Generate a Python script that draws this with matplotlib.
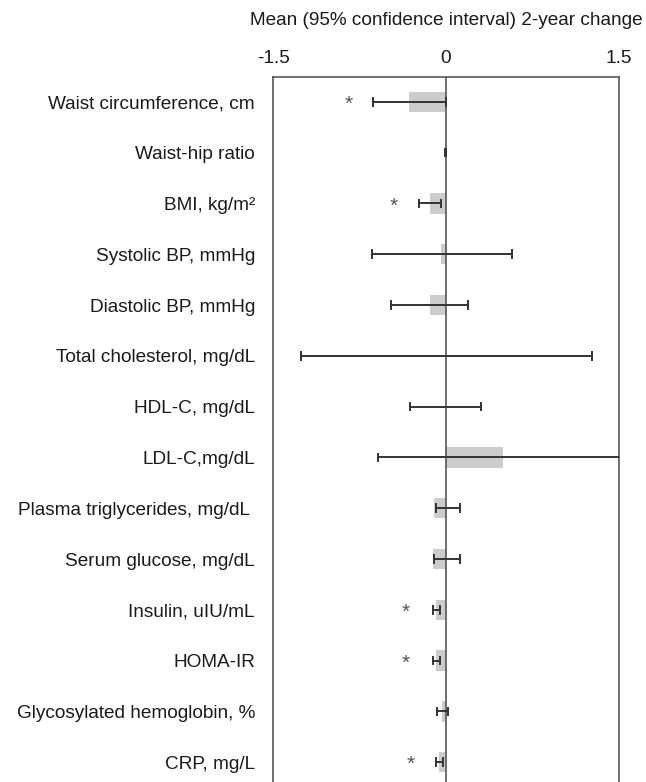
# Forest-style bar chart of 2-year changes with 95% CI
import matplotlib
matplotlib.use('Agg')
import matplotlib.pyplot as plt

# Data
labels = ['Waist circumference, cm', 'Waist-hip ratio', 'BMI, kg/m²',
          'Systolic BP, mmHg', 'Diastolic BP, mmHg', 'Total cholesterol, mg/dL',
          'HDL-C, mg/dL', 'LDL-C,mg/dL', 'Plasma triglycerides, mg/dL ',
          'Serum glucose, mg/dL', 'Insulin, uIU/mL', 'HOMA-IR',
          'Glycosylated hemoglobin, %', 'CRP, mg/L']
means = [-0.32, -0.005, -0.14, -0.04, -0.14, 0.0, 0.0, 0.49, -0.10, -0.11,
         -0.09, -0.09, -0.035, -0.06]
ci_low = [-0.63, -0.01, -0.23, -0.64, -0.48, -1.26, -0.31, -0.59, -0.09, -0.10,
          -0.11, -0.11, -0.08, -0.09]
ci_high = [0.0, 0.0, -0.04, 0.57, 0.19, 1.27, 0.30, 1.55, 0.12, 0.12,
           -0.05, -0.05, 0.02, -0.03]
# asterisk positions (significant changes)
star_rows = [0, 2, 10, 11, 13]
star_x = [-0.845, -0.45, -0.35, -0.35, -0.31]
ticks = [-1.5, 0, 1.5]

plt.rcParams['font.family'] = ['Liberation Sans', 'DejaVu Sans']
fs = 13.7
txt = '#1a1a1a'

fig = plt.figure(figsize=(6.46, 7.82), dpi=100)
ax = fig.add_axes([273 / 646, 0.0, 346 / 646, 1 - 77 / 782])

ypos = list(range(len(labels)))
ax.barh(ypos, means, height=0.4, color='#cccccc', zorder=1)

for i in ypos:
    lo, hi = ci_low[i], ci_high[i]
    ax.plot([lo, hi], [i, i], color='#333333', lw=1.4, zorder=3)
    for x in (lo, hi):
        if -1.5 < x < 1.5:
            ax.plot([x, x], [i - 0.075, i + 0.075], color='#333333', lw=1.4, zorder=3)

for r, x in zip(star_rows, star_x):
    ax.text(x, r + 0.05, '*', ha='center', va='center', fontsize=15, color='#555555')

ax.axvline(0, color='#555555', lw=1.2, zorder=2)

ax.set_xlim(-1.5, 1.5)
ax.set_ylim(13.39, -0.49)
ax.set_xticks(ticks)
ax.set_xticklabels(['-1.5', '0', '1.5'])
ax.xaxis.tick_top()
ax.xaxis.set_label_position('top')
ax.set_xlabel('Mean (95% confidence interval) 2-year change', fontsize=fs,
              labelpad=18, color=txt)
ax.tick_params(axis='x', length=0, pad=7, labelsize=fs, labelcolor=txt)

ax.set_yticks(ypos)
ax.set_yticklabels(labels)
ax.tick_params(axis='y', length=0, pad=13, labelsize=fs, labelcolor=txt)

for s in ['left', 'right', 'top']:
    ax.spines[s].set_color('#555555')
    ax.spines[s].set_linewidth(1.2)
ax.spines['bottom'].set_visible(False)

fig.savefig('out.png', dpi=100)
